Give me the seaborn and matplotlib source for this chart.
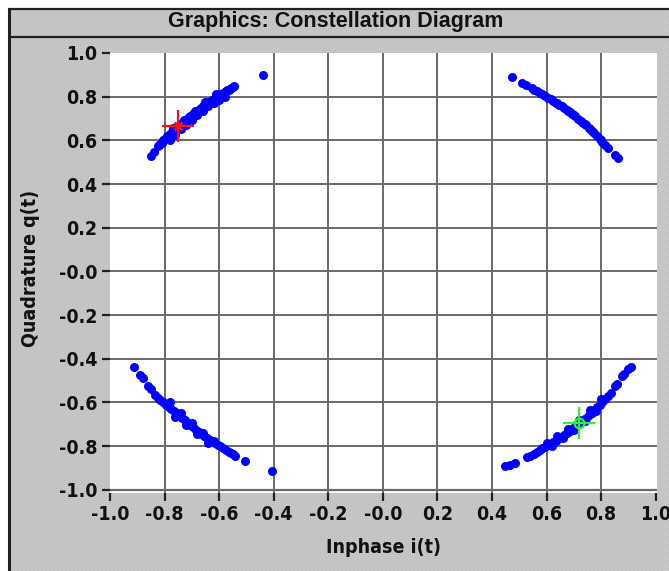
import numpy as np
import pandas as pd
import matplotlib
matplotlib.use("Agg")
import matplotlib.pyplot as plt
from matplotlib.lines import Line2D
from matplotlib.transforms import IdentityTransform
import seaborn as sns

# ---- received symbols (in-phase / quadrature), one list pair per quadrant ----
ul_i = [-0.85, -0.84, -0.825, -0.82, -0.815, -0.81, -0.805, -0.80, -0.795, -0.79, -0.785,
        -0.78, -0.775, -0.77, -0.765, -0.76, -0.755, -0.75, -0.745, -0.74, -0.735, -0.73,
        -0.725, -0.72, -0.715, -0.71, -0.705, -0.70, -0.695, -0.69, -0.685, -0.68, -0.675,
        -0.67, -0.665, -0.66, -0.655, -0.65, -0.645, -0.64, -0.635, -0.63, -0.625, -0.62,
        -0.615, -0.61, -0.605, -0.60, -0.595, -0.59, -0.585, -0.58, -0.575, -0.57, -0.565,
        -0.56, -0.555, -0.55, -0.545,
        -0.78, -0.76, -0.74, -0.72, -0.70, -0.68, -0.66, -0.64, -0.62, -0.60, -0.58,
        -0.77, -0.73, -0.69, -0.65, -0.61, -0.44]
ul_q = [0.53, 0.545, 0.575, 0.58, 0.585, 0.59, 0.60, 0.605, 0.61, 0.62, 0.625,
        0.63, 0.635, 0.64, 0.645, 0.65, 0.655, 0.665, 0.67, 0.675, 0.68, 0.685,
        0.69, 0.695, 0.70, 0.705, 0.71, 0.715, 0.72, 0.725, 0.73, 0.735, 0.74,
        0.745, 0.75, 0.755, 0.76, 0.765, 0.77, 0.775, 0.775, 0.78, 0.785, 0.79,
        0.79, 0.795, 0.80, 0.805, 0.81, 0.81, 0.815, 0.82, 0.825, 0.83, 0.83,
        0.835, 0.84, 0.845, 0.85,
        0.60, 0.625, 0.65, 0.67, 0.695, 0.715, 0.735, 0.755, 0.77, 0.785, 0.80,
        0.655, 0.695, 0.735, 0.775, 0.81, 0.90]

ur_i = [0.475, 0.51, 0.525, 0.545, 0.555, 0.565, 0.575, 0.585, 0.595, 0.605, 0.615,
        0.625, 0.635, 0.645, 0.655, 0.665, 0.675, 0.685, 0.695, 0.705, 0.715, 0.725,
        0.735, 0.745, 0.755, 0.765, 0.775, 0.785, 0.795, 0.805, 0.815, 0.825, 0.85, 0.862,
        0.64, 0.70, 0.76, 0.80, 0.68, 0.74]
ur_q = [0.888, 0.862, 0.852, 0.84, 0.832, 0.825, 0.818, 0.81, 0.803, 0.795, 0.788,
        0.78, 0.772, 0.764, 0.755, 0.747, 0.738, 0.728, 0.72, 0.71, 0.70, 0.69,
        0.68, 0.668, 0.657, 0.645, 0.633, 0.62, 0.607, 0.594, 0.58, 0.566, 0.535, 0.52,
        0.77, 0.715, 0.65, 0.60, 0.735, 0.675]

ll_i = [-0.912, -0.89, -0.88, -0.86, -0.85, -0.835, -0.825, -0.815, -0.805, -0.795, -0.785,
        -0.775, -0.765, -0.755, -0.745, -0.735, -0.725, -0.715, -0.705, -0.695, -0.685,
        -0.675, -0.665, -0.655, -0.645, -0.635, -0.625, -0.615, -0.605, -0.595, -0.585,
        -0.575, -0.565, -0.555, -0.548, -0.54, -0.505, -0.405,
        -0.78, -0.74, -0.70, -0.66, -0.62, -0.76, -0.72, -0.68, -0.64]
ll_q = [-0.44, -0.475, -0.49, -0.525, -0.54, -0.565, -0.578, -0.59, -0.60, -0.61, -0.62,
        -0.63, -0.64, -0.65, -0.66, -0.67, -0.68, -0.695, -0.705, -0.715, -0.725,
        -0.735, -0.745, -0.755, -0.762, -0.77, -0.778, -0.785, -0.795, -0.802, -0.81,
        -0.818, -0.825, -0.832, -0.838, -0.845, -0.87, -0.915,
        -0.60, -0.65, -0.695, -0.74, -0.775, -0.665, -0.705, -0.745, -0.785]

lr_i = [0.448, 0.465, 0.485, 0.53, 0.54, 0.555, 0.565, 0.575, 0.585, 0.595, 0.605,
        0.615, 0.625, 0.635, 0.645, 0.655, 0.665, 0.675, 0.685, 0.695, 0.705, 0.715,
        0.725, 0.735, 0.745, 0.755, 0.765, 0.775, 0.785, 0.795, 0.805, 0.815, 0.825,
        0.835, 0.852, 0.858, 0.878, 0.885, 0.90, 0.908,
        0.60, 0.64, 0.68, 0.72, 0.76, 0.80, 0.62, 0.66, 0.70, 0.74, 0.78]
lr_q = [-0.893, -0.886, -0.878, -0.85, -0.845, -0.835, -0.826, -0.82, -0.81, -0.805, -0.797,
        -0.79, -0.782, -0.775, -0.765, -0.757, -0.748, -0.74, -0.73, -0.72, -0.71, -0.70,
        -0.69, -0.68, -0.67, -0.658, -0.647, -0.635, -0.622, -0.61, -0.597, -0.583, -0.57,
        -0.556, -0.525, -0.515, -0.48, -0.47, -0.448, -0.437,
        -0.785, -0.755, -0.72, -0.68, -0.635, -0.585, -0.80, -0.765, -0.725, -0.685, -0.64]

# cursor positions
cursor1 = (-0.75, 0.665)
cursor2 = (0.72, -0.693)

tick_vals = [-1.0, -0.8, -0.6, -0.4, -0.2, 0.0, 0.2, 0.4, 0.6, 0.8, 1.0]
x_tick_labels = ["-1.0", "-0.8", "-0.6", "-0.4", "-0.2", "-0.0", "0.2", "0.4", "0.6", "0.8", "1.0"]
y_tick_labels = ["-1.0", "-0.8", "-0.6", "-0.4", "-0.2", "-0.0", "0.2", "0.4", "0.6", "0.8", "1.0"]

df = pd.DataFrame({
    "i": ul_i + ur_i + ll_i + lr_i,
    "q": ul_q + ur_q + ll_q + lr_q,
})

sns.set_theme(style="white")
narrow = ["DejaVu Sans"]
wide = ["Liberation Sans", "DejaVu Sans"]

W, H = 669, 571
fig = plt.figure(figsize=(W / 100, H / 100), dpi=100)

# dithered gray panel background, drawn in a full-figure axes underneath
bg = np.full((H, W, 3), 198, dtype=np.uint8)
yy, xx = np.mgrid[0:H, 0:W]
dots = ((xx % 4 == 0) & (yy % 4 == 0)) | ((xx % 4 == 2) & (yy % 4 == 2))
bg[dots] = 184
bg[:8, :] = 255
bg[:, :8] = 255
bg_ax = fig.add_axes([0, 0, 1, 1], zorder=-10)
bg_ax.imshow(bg, aspect="auto", interpolation="nearest")
bg_ax.set_axis_off()

def hline(x0, x1, y, lw=2.0, c="#202020"):
    fig.add_artist(Line2D([x0, x1], [H - y, H - y], transform=IdentityTransform(),
                          color=c, lw=lw, solid_capstyle="butt"))

def vline(x, y0, y1, lw=2.0, c="#202020"):
    fig.add_artist(Line2D([x, x], [H - y0, H - y1], transform=IdentityTransform(),
                          color=c, lw=lw, solid_capstyle="butt"))

vline(9, 8, H, lw=2.2)
hline(8, W, 9, lw=1.6)
hline(8, W, 37, lw=1.6)

fig.text(336 / W, 1 - 21 / H, "Graphics: Constellation Diagram", ha="center", va="center",
         fontsize=15.5, fontweight="bold", family=wide, color="#111111")

# plot area
left, right, top, bottom = 110, 657, 53, 493
ax = fig.add_axes([left / W, 1 - bottom / H, (right - left) / W, (bottom - top) / H], zorder=1)
ax.set_facecolor("white")
ax.set_xlim(-1.0, 1.005)
ax.set_ylim(-1.015, 1.0)
for s in ax.spines.values():
    s.set_visible(False)
ax.grid(False)

grid_c = "#6a6a6a"
for v in tick_vals[1:-1]:
    ax.axvline(v, color=grid_c, lw=1.4, zorder=1)
    ax.axhline(v, color=grid_c, lw=1.4, zorder=1)
ax.axhline(-1.0, color=grid_c, lw=1.6, zorder=1)

sns.scatterplot(data=df, x="i", y="q", ax=ax, color="#0000ff", s=42, linewidth=0,
                zorder=3, legend=False)

ax.plot(*cursor1, marker="+", ms=23, mew=1.6, color="#ff1010", zorder=4)
ax.plot(*cursor1, marker="x", ms=6, mew=2.0, color="#ff1010", zorder=4)
ax.plot(*cursor2, marker="+", ms=23, mew=1.6, color="#30f030", zorder=4)
ax.plot(*cursor2, marker="o", ms=7, mew=1.6, mfc="none", mec="#30f030", zorder=4)

ax.set_xticks(tick_vals)
ax.set_xticklabels(x_tick_labels)
ax.set_yticks(tick_vals)
ax.set_yticklabels(y_tick_labels)
ax.tick_params(axis="both", direction="out", length=6, width=1.6, color="#202020",
               pad=3, labelsize=14, labelcolor="#111111")
ax.tick_params(axis="x", bottom=True)
ax.tick_params(axis="y", left=True)
for lab in ax.get_xticklabels() + ax.get_yticklabels():
    lab.set_fontfamily(narrow)
    lab.set_fontweight("bold")
    lab.set_fontstretch("condensed")

ax.set_xlabel("Inphase i(t)", fontsize=14, fontweight="bold", family=narrow,
              fontstretch="condensed", color="#111111")
ax.set_ylabel("Quadrature q(t)", fontsize=14, fontweight="bold", family=narrow,
              fontstretch="condensed", color="#111111")
ax.xaxis.set_label_coords((383 - left) / (right - left), (bottom - 538) / (bottom - top))
ax.yaxis.set_label_coords((40 - left) / (right - left), (bottom - 268) / (bottom - top))

fig.savefig("out.png", dpi=100)
